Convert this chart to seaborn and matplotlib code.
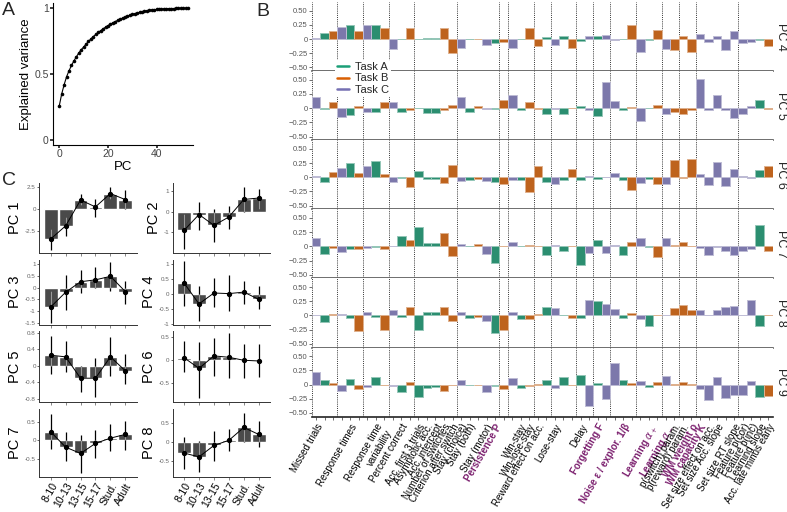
import numpy as np
import pandas as pd
import matplotlib
matplotlib.use("Agg")
import matplotlib.pyplot as plt
from matplotlib.lines import Line2D
from matplotlib.colors import to_rgb
import seaborn as sns

# ---------------- data ----------------
# Panel A: cumulative explained variance of the PCA
pc_index = np.arange(54)
cum_var = [0.26, 0.35, 0.42, 0.48, 0.525, 0.565, 0.60, 0.63, 0.66, 0.685,
           0.705, 0.727, 0.748, 0.767, 0.785, 0.801, 0.816, 0.83, 0.843, 0.856,
           0.868, 0.879, 0.889, 0.899, 0.908, 0.917, 0.925, 0.933, 0.94, 0.947,
           0.953, 0.959, 0.964, 0.969, 0.973, 0.977, 0.981, 0.984, 0.987, 0.989,
           0.991, 0.993, 0.994, 0.995, 0.996, 0.997, 0.998, 0.998, 0.999, 0.999,
           1.0, 1.0, 1.0, 1.0]

# Panel B: task of every feature (bar) and its loading on PC 4-9
feature_task = ("C A B C A B C A B C A B A A A B B C A B C A B C A B B "
                "A C A B A C A C C A B C A B C B B B C C C C C C C A B").split()
pc_names = ["PC 4", "PC 5", "PC 6", "PC 7", "PC 8", "PC 9"]
load_pc4 = [0.02, 0.10, 0.135, 0.22, 0.25, 0.135, 0.245, 0.25, 0.19, -0.18, 0.01, 0.195, 0.01, 0.015,
            0.015, 0.19, -0.245, -0.165, 0.01, 0.005, -0.10, -0.07, -0.05, -0.15, 0.01, 0.20, -0.12,
            0.035, -0.10, 0.06, -0.15, -0.035, 0.06, 0.05, 0.065, -0.01, 0.01, 0.24, -0.23, -0.01,
            0.16, -0.18, -0.20, 0.06, -0.235, 0.09, -0.05, 0.055, -0.19, 0.135, -0.07, -0.06, -0.01, -0.13]
load_pc5 = [0.19, -0.01, 0.10, -0.15, -0.12, 0.04, -0.075, -0.06, 0.10, 0.11, -0.075, -0.03, 0.0, -0.085,
            -0.09, -0.04, 0.06, 0.195, -0.07, 0.035, -0.01, -0.01, 0.15, 0.23, -0.035, 0.10, -0.015,
            -0.10, -0.01, -0.10, -0.005, 0.03, -0.03, -0.135, 0.465, 0.12, -0.03, 0.02, -0.22, -0.005,
            0.06, -0.10, -0.07, -0.11, -0.04, 0.51, -0.035, 0.235, -0.035, -0.165, -0.11, 0.035, 0.15, -0.01]
load_pc6 = [0.025, -0.09, 0.09, 0.17, 0.25, 0.075, 0.19, 0.29, 0.06, -0.09, -0.005, -0.17, 0.11, -0.03,
            -0.03, -0.10, 0.22, -0.06, -0.05, -0.03, -0.07, -0.08, -0.12, -0.05, -0.05, -0.26, 0.20,
            -0.075, -0.11, -0.055, 0.14, -0.04, 0.03, -0.03, 0.005, 0.07, -0.04, -0.22, -0.10, -0.03,
            -0.11, -0.12, 0.30, -0.005, 0.32, 0.065, -0.14, 0.265, -0.145, 0.15, 0.02, -0.01, 0.125, 0.195]
load_pc7 = [0.15, -0.14, -0.02, -0.095, -0.045, -0.05, -0.03, -0.005, -0.045, 0.01, 0.19, 0.115, 0.34,
            0.065, 0.065, 0.23, -0.165, 0.04, 0.0, 0.04, -0.14, -0.30, 0.01, 0.07, 0.0, 0.03, 0.01,
            -0.15, 0.02, -0.09, 0.01, -0.33, -0.12, 0.11, -0.12, 0.02, -0.15, 0.07, 0.14, -0.01,
            -0.19, 0.15, 0.03, 0.08, 0.005, -0.03, -0.15, -0.01, -0.08, -0.15, -0.075, -0.045, 0.38, -0.08]
load_pc8 = [0.01, -0.11, 0.03, 0.02, -0.04, -0.28, 0.065, -0.03, -0.25, 0.105, -0.03, 0.15, -0.26, 0.07,
            0.07, 0.15, -0.10, 0.06, -0.05, -0.03, -0.10, -0.30, -0.26, 0.06, -0.07, -0.06, 0.02,
            0.15, 0.14, 0.0, -0.04, -0.04, 0.27, 0.26, 0.20, 0.11, -0.04, 0.04, -0.07, -0.18,
            0.01, 0.01, 0.13, 0.19, 0.09, 0.09, 0.01, 0.09, 0.15, 0.165, 0.0, 0.28, -0.19, 0.0]
load_pc9 = [0.23, 0.075, 0.03, -0.12, 0.09, -0.08, -0.05, 0.14, -0.01, -0.03, -0.135, 0.05, -0.21,
            -0.065, -0.035, -0.12, -0.005, 0.085, -0.005, -0.015, -0.135, -0.02, -0.075, 0.11, -0.06,
            -0.03, 0.015, 0.075, -0.065, 0.13, 0.0, 0.16, -0.38, 0.025, -0.26, 0.385, 0.075, 0.02,
            0.07, -0.035, 0.045, 0.15, 0.012, 0.04, 0.005, -0.085, -0.275, 0.14, -0.24, -0.185,
            -0.185, 0.055, -0.215, -0.205]
loadings = [load_pc4, load_pc5, load_pc6, load_pc7, load_pc8, load_pc9]

# first feature of each group (dotted separators)
group_starts = [0, 3, 6, 9, 12, 17, 22, 23, 26, 28, 31, 33, 35, 38, 41, 43, 45, 50]

tick_pos = [0, 4, 7, 10, 12, 13, 14, 15, 16, 17, 18, 20, 21, 24, 25, 26, 28, 31, 33, 36,
            39, 41, 42, 43, 44, 45, 46, 47, 49, 50, 51, 52, 53]
tick_text = ["Missed trials", "Response times", "Response time\nvariability", "Percent correct",
             "Acc. first 3 trials", "Asymptotic acc.", "Acc. intercept", "Number of switches",
             "Criterion after switch", "Stay (choice)", "Stay (both)", "Stay (motor)",
             "Persistence P", "Win-stay", "Win-lose-stay", "Reward effect on acc.", "Lose-stay",
             "Delay", "Forgetting F", "Noise ε / explor. 1/β", r"Learning $\alpha_+$",
             r"Learning $\alpha_-$", "p(switch) param.", "p(reward) param.", "WM weight ρ",
             "WM capacity K", "Set size effect on acc.", "Set size Acc. slope", "Set size RT slope",
             "Feature p(cor)", "Feature p(inc)", "Learning slope", "Acc. late minus early"]
param_labels = ["Persistence P", "Forgetting F", "Noise ε / explor. 1/β", r"Learning $\alpha_+$",
                r"Learning $\alpha_-$", "WM weight ρ", "WM capacity K"]

# Panel C: PC scores per age group (mean and CI)
age_groups = ["8-10", "10-13", "13-15", "15-17", "Stud.", "Adult"]
c_mean = [[-3.4, -1.9, 1.05, 0.27, 1.8, 1.1],
          [-0.9, -0.13, -0.66, -0.25, 0.6, 0.67],
          [-0.83, -0.2, 0.25, 0.33, 0.48, -0.17],
          [0.37, -0.32, 0.04, 0.02, 0.07, -0.17],
          [0.26, 0.22, -0.3, -0.3, 0.22, -0.12],
          [0.04, -0.19, 0.08, 0.05, -0.015, -0.03],
          [0.23, -0.18, -0.35, -0.08, 0.06, 0.16],
          [-0.3, -0.4, -0.1, 0.035, 0.375, 0.19]]
c_lo = [[-4.6, -3.0, 0.5, -0.9, 1.2, 0.05],
        [-1.8, -0.9, -1.45, -0.85, 0.0, 0.15],
        [-1.5, -0.95, -0.25, 0.0, -0.15, -0.7],
        [-0.38, -0.9, -0.43, -0.55, -0.33, -0.48],
        [-0.2, -0.16, -0.64, -0.76, -0.24, -0.44],
        [-0.28, -0.84, -0.35, -0.39, -0.41, -0.37],
        [-0.24, -0.55, -0.88, -0.46, -0.29, -0.26],
        [-0.73, -0.79, -0.52, -0.25, 0.0, -0.15]]
c_hi = [[-2.2, -0.9, 1.8, 1.2, 2.5, 2.15],
        [-0.1, 0.5, 0.15, 0.27, 1.2, 1.12],
        [-0.15, 0.52, 0.75, 0.87, 1.08, 0.28],
        [1.1, 0.27, 0.53, 0.65, 0.43, 0.27],
        [0.72, 0.6, 0.0, 0.2, 0.7, 0.3],
        [0.4, 0.38, 0.46, 0.57, 0.34, 0.34],
        [0.71, 0.23, 0.15, 0.28, 0.43, 0.52],
        [0.12, 0.01, 0.29, 0.34, 0.76, 0.54]]
c_ylim = [(-5, 3), (-2, 1.4), (-1.6, 1.2), (-1.02, 1.15),
          (-0.88, 0.85), (-0.92, 0.62), (-0.98, 0.84), (-0.93, 0.86)]
c_yticks = [[-2.5, 0, 2.5], [-1, 0, 1], [-1.5, -1, -0.5, 0, 0.5, 1], [-1, -0.5, 0, 0.5, 1],
            [-0.8, -0.4, 0, 0.4, 0.8], [-0.5, 0, 0.5], [-0.5, 0, 0.5], [-0.5, 0, 0.5]]

# ---------------- style ----------------
sns.set_theme(style="white")
plt.rcParams["font.family"] = ["Liberation Sans", "DejaVu Sans"]
task_colors = {"A": "#1b9e77", "B": "#d95f02", "C": "#7570b3"}
param_color = "#7b1f6e"

W, H = 787, 512
fig = plt.figure(figsize=(W / 100, H / 100), dpi=100)


def px_axes(left, top, right, bottom):
    return fig.add_axes([left / W, 1 - bottom / H, (right - left) / W, (bottom - top) / H])


def lighter(c, f=0.5):
    r, g, b = to_rgb(c)
    return (r + (1 - r) * f, g + (1 - g) * f, b + (1 - b) * f)


# ---------------- Panel A ----------------
axA = px_axes(53, 3, 193, 145)
sns.lineplot(x=pc_index, y=cum_var, color="black", lw=0.8, marker="o",
             markersize=2.6, markeredgewidth=0, ax=axA)
axA.set_xlim(-2.6, 55)
axA.set_ylim(-0.04, 1.04)
axA.set_yticks([0, 0.5, 1])
axA.set_yticklabels(["0", "0.5", "1"])
axA.set_xticks([0, 20, 40])
axA.set_xlabel("PC", fontsize=9.5, labelpad=1, color="black")
axA.set_ylabel("Explained variance", fontsize=9.5, labelpad=2, color="black")
axA.tick_params(labelsize=7.5, labelcolor="#444444", length=2, pad=1, left=True, bottom=True)
sns.despine(ax=axA)
for s in ("left", "bottom"):
    axA.spines[s].set_linewidth(0.8)
    axA.spines[s].set_color("black")

# ---------------- Panel B ----------------
n_feat = len(feature_task)
row_h = 69.1
for r, (name, vals) in enumerate(zip(pc_names, loadings)):
    top = 2 + row_h * r
    ax = px_axes(311.7, top, 772.5, top + row_h)
    d = pd.DataFrame({"feat": np.arange(n_feat), "loading": vals, "task": feature_task})
    sns.barplot(data=d, x="feat", y="loading", hue="task", hue_order=["A", "B", "C"],
                palette=task_colors, dodge=False, width=1.0, errorbar=None,
                legend=False, ax=ax)
    for p in ax.patches:
        p.set_edgecolor(lighter(p.get_facecolor()))
        p.set_linewidth(0.7)
    for g in group_starts:
        ax.axvline(g - 0.5, ls=(0, (1, 1.2)), color="#333333", lw=0.7, zorder=0)
    ax.set_xlim(-0.5, n_feat - 0.5)
    ax.set_ylim(-0.564, 0.653)
    ax.set_yticks([-0.5, -0.25, 0, 0.25, 0.5])
    ax.set_yticklabels(["\u22120.50", "\u22120.25", "0", "0.25", "0.50"])
    ax.tick_params(axis="y", labelsize=5.5, labelcolor="#555555", length=2,
                   width=0.6, color="#555555", pad=1, left=True)
    ax.set_xlabel("")
    ax.set_ylabel("")
    for s in ("top", "right", "left"):
        ax.spines[s].set_visible(False)
    ax.spines["bottom"].set_linewidth(1.2)
    ax.spines["bottom"].set_color("#555555" if r < 5 else "#222222")
    ax.text(781 / W, 1 - (top + row_h / 2) / H, name, rotation=-90,
            transform=fig.transFigure, va="center", ha="center", fontsize=9)
    ax.set_xticks(range(n_feat))
    if r < 5:
        ax.set_xticklabels([])
        ax.tick_params(axis="x", bottom=False)
    else:
        labels = [""] * n_feat
        for pos, txt in zip(tick_pos, tick_text):
            labels[pos] = txt
        ax.set_xticklabels(labels, rotation=60, ha="right", rotation_mode="anchor",
                           fontsize=7, color="black")
        ax.tick_params(axis="x", bottom=True, length=2, width=0.6, color="#555555", pad=2)
        for lbl in ax.get_xticklabels():
            if lbl.get_text() in param_labels:
                lbl.set_color(param_color)
                lbl.set_fontweight("bold")

handles = [Line2D([0], [0], color=task_colors[t], lw=1.8) for t in ["A", "B", "C"]]
fig.legend(handles, ["Task A", "Task B", "Task C"], loc="upper left",
           bbox_to_anchor=(329 / W, 1 - 54 / H), fontsize=8, frameon=True,
           facecolor="white", edgecolor="none", framealpha=1, handlelength=1.1,
           handletextpad=0.5, labelspacing=0.15, borderpad=0.2)

# ---------------- Panel C ----------------
col_left = [39.3, 172.7]
col_w = 97.4
row_tb = [(183, 253), (259.5, 325), (331, 402), (409, 477)]
for k in range(8):
    rr, cc = divmod(k, 2)
    t, b = row_tb[rr]
    ax = px_axes(col_left[cc], t, col_left[cc] + col_w, b)
    means, lo, hi = c_mean[k], c_lo[k], c_hi[k]
    sns.barplot(x=age_groups, y=means, color="#4a4a4a", saturation=1, width=0.93,
                errorbar=None, ax=ax)
    xs = np.arange(len(age_groups))
    ax.vlines(xs, lo, hi, color="black", lw=0.9, zorder=3)
    # part of the interval lying over the bar shows lighter
    in_lo = [max(l, min(0, m)) for l, m in zip(lo, means)]
    in_hi = [min(h, max(0, m)) for h, m in zip(hi, means)]
    for x, a, z in zip(xs, in_lo, in_hi):
        if z > a:
            ax.vlines(x, a, z, color="#9a9a9a", lw=0.9, zorder=4)
    ax.plot(xs, means, color="black", lw=0.7, marker="o", markersize=2.8, zorder=5)
    ax.set_ylim(*c_ylim[k])
    ax.set_yticks(c_yticks[k])
    ax.set_yticklabels(["%g" % v for v in c_yticks[k]])
    ax.set_ylabel("PC %d" % (k + 1), fontsize=10.5, labelpad=2, color="black")
    ax.tick_params(axis="y", labelsize=4.5, labelcolor="#666666", length=1.5,
                   width=0.5, pad=1, left=True)
    ax.tick_params(axis="x", length=2, width=0.5, color="#555555", bottom=True, pad=1)
    if rr < 3:
        ax.set_xticklabels([])
    else:
        ax.set_xticks(xs)
        ax.set_xticklabels(age_groups, rotation=60, ha="right", rotation_mode="anchor",
                           fontsize=7.5, color="black")
    sns.despine(ax=ax)
    for s in ("left", "bottom"):
        ax.spines[s].set_linewidth(0.7)
        ax.spines[s].set_color("#333333")

# panel letters
fig.text(2 / W, 1 - 2 / H, "A", fontsize=14, va="top", ha="left")
fig.text(256 / W, 1 - 3 / H, "B", fontsize=14, va="top", ha="left")
fig.text(2 / W, 1 - 172 / H, "C", fontsize=14, va="top", ha="left")

fig.savefig("out.png", dpi=100)
